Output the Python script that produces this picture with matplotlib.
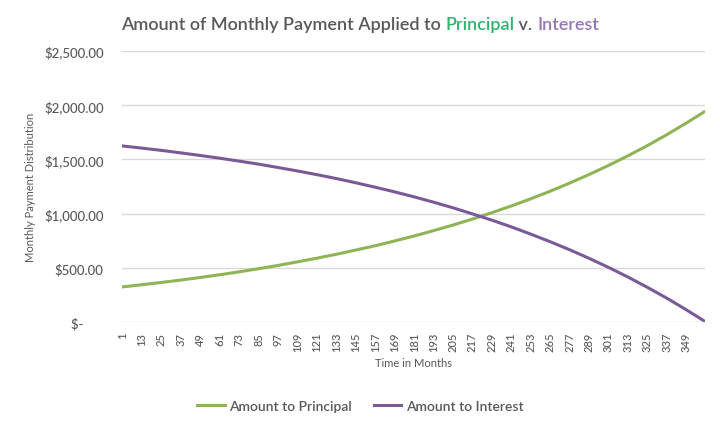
import numpy as np
import matplotlib
matplotlib.use("Agg")
import matplotlib.pyplot as plt

# months shown on the category axis (every 12th) plus the last one
meses = [1, 13, 25, 37, 49, 61, 73, 85, 97, 109, 121, 133, 145, 157, 169, 181,
         193, 205, 217, 229, 241, 253, 265, 277, 289, 301, 313, 325, 337, 349, 360]

# values
principal = [324, 344, 365, 387, 411, 436, 463, 492, 522, 555, 589, 625, 664, 704,
             748, 794, 843, 895, 950, 1009, 1071, 1137, 1207, 1282, 1361, 1445,
             1534, 1628, 1729, 1836, 1939]
interes = [1625, 1605, 1584, 1561, 1537, 1512, 1485, 1457, 1426, 1394, 1360, 1324,
           1285, 1244, 1201, 1155, 1106, 1054, 998, 940, 878, 811, 741, 667, 588,
           504, 415, 320, 220, 113, 10]

etiquetas_x = [str(m) for m in meses[:-1]]
valores_y = [0, 500, 1000, 1500, 2000, 2500]
etiquetas_y = ["$-      ", "$500.00", "$1,000.00", "$1,500.00", "$2,000.00", "$2,500.00"]

verde = "#8FB456"
morado = "#7A5A96"
gris = "#595959"

plt.rcParams['font.family'] = ['Lato', 'DejaVu Sans']

fig = plt.figure(figsize=(7.2, 4.31), dpi=100)
ax = fig.add_axes([0.169, 0.2506, 0.81, 0.6284])

ax.plot(meses, principal, color=verde, lw=2.2, label="Amount to Principal")
ax.plot(meses, interes, color=morado, lw=2.2, label="Amount to Interest")

ax.set_xlim(0.5, 360.5)
ax.set_ylim(0, 2500)
ax.set_xticks(meses[:-1])
ax.set_xticklabels(etiquetas_x, rotation=90, fontsize=8, color=gris, fontweight='medium')
ax.set_yticks(valores_y)
ax.set_yticklabels(etiquetas_y, fontsize=9.5, color=gris, fontweight='medium')
ax.tick_params(axis='both', length=0)
ax.tick_params(axis='y', pad=13)
ax.tick_params(axis='x', pad=7)
ax.grid(True, axis='y', color="#D9D9D9", lw=1)
ax.set_axisbelow(True)
for s in ax.spines.values():
    s.set_visible(False)

ax.set_xlabel("Time in Months", fontsize=8, color=gris, labelpad=4)
fig.text(0.042, 0.565, "Monthly Payment Distribution", rotation=90, fontsize=8,
         color=gris, ha='center', va='center')

# titulo con colores por partes
partes = [("Amount of Monthly Payment Applied to ", gris),
          ("Principal", "#2EB36C"),
          (" v. ", gris),
          ("Interest", "#9478B4")]
fig.canvas.draw()
render = fig.canvas.get_renderer()
textos = []
for txt, col in partes:
    t = fig.text(0, 0.942, txt, fontsize=13, color=col, fontweight='semibold',
                 va='center', ha='left')
    textos.append(t)
anchos = [t.get_window_extent(render).width for t in textos]
x = (720 - sum(anchos)) / 2
for t, w in zip(textos, anchos):
    t.set_x(x / 720)
    x += w

fig.legend(loc='center', bbox_to_anchor=(0.5, 0.055), ncol=2, frameon=False,
           fontsize=10, labelcolor=gris, handlelength=2.0, columnspacing=1.6,
           handletextpad=0.3, prop={'weight': 'semibold', 'size': 10})

fig.savefig("out.png", dpi=100)
